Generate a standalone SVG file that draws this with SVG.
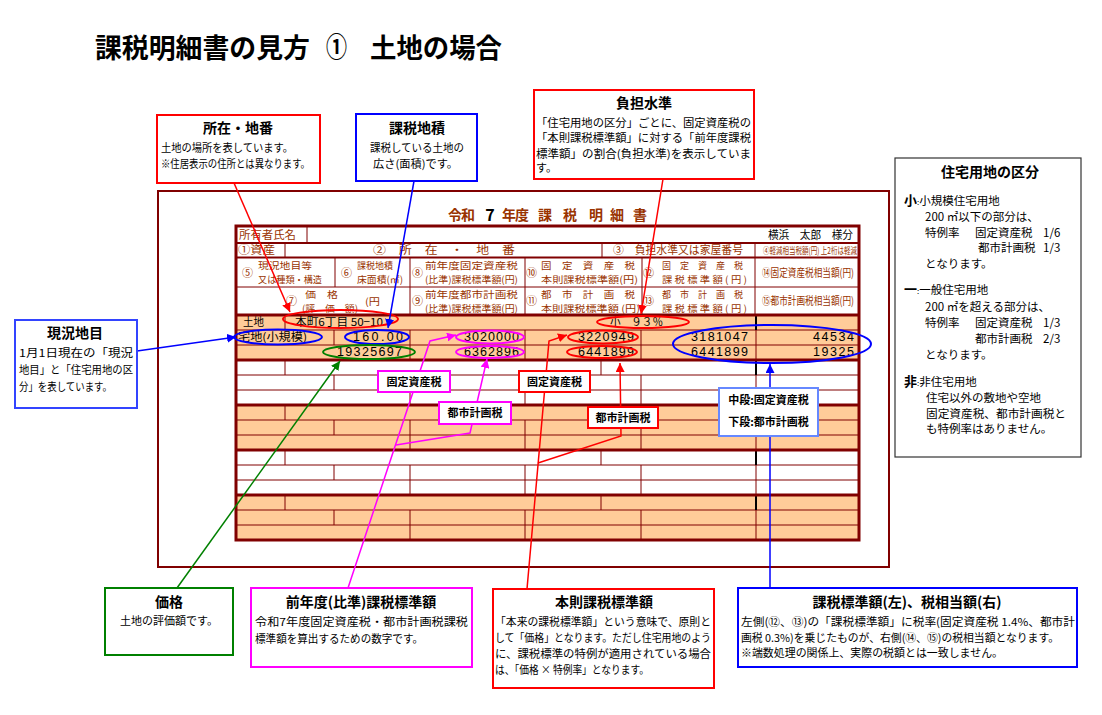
<svg xmlns="http://www.w3.org/2000/svg" width="1102" height="715" viewBox="0 0 1102 715">
<defs>
<style>
text{font-family:"Noto Sans CJK JP","Noto Sans CJK SC",sans-serif;}
.ttl{font-size:27px;font-weight:bold;fill:#000}
.sub{font-size:14px;font-weight:bold;fill:#993300;text-anchor:middle}
.hd{font-size:11px;fill:#993300}
.h2{font-size:9.5px;fill:#993300}
.hs{font-size:9px;fill:#993300}
.dt{font-size:11px;fill:#000}
.num{font-family:"Liberation Sans",Arial,sans-serif;font-size:12.5px;fill:#000}
.ct{font-size:14px;font-weight:bold;fill:#000;text-anchor:middle}
.cb{font-size:11px;fill:#000}
.lb{font-size:11px;font-weight:bold;fill:#000;text-anchor:middle}
.rb{font-size:11.5px;fill:#000}
.rk{font-size:13px;font-weight:bold;fill:#000}
.frame{fill:none;stroke:#800000;stroke-width:2}
.tl{stroke:#800000;stroke-width:1;fill:none}
.tm{stroke:#800000;stroke-width:2;fill:none}
.th{stroke:#800000;stroke-width:3;fill:none}
.blk{stroke:#000;stroke-width:2}
.bx{fill:#fff;stroke-width:2}
.ell{fill:none;stroke-width:2}
.con{fill:none;stroke-width:1.5}
.or{fill:#FFCC99}
</style>
<marker id="aR" viewBox="0 0 10 10" refX="10" refY="5" markerWidth="9" markerHeight="9" markerUnits="userSpaceOnUse" orient="auto"><path d="M0,0L10,5L0,10z" fill="#FF0000"/></marker>
<marker id="aB" viewBox="0 0 10 10" refX="10" refY="5" markerWidth="9" markerHeight="9" markerUnits="userSpaceOnUse" orient="auto"><path d="M0,0L10,5L0,10z" fill="#0000FF"/></marker>
<marker id="aG" viewBox="0 0 10 10" refX="10" refY="5" markerWidth="9" markerHeight="9" markerUnits="userSpaceOnUse" orient="auto"><path d="M0,0L10,5L0,10z" fill="#008000"/></marker>
<marker id="aM" viewBox="0 0 10 10" refX="10" refY="5" markerWidth="9" markerHeight="9" markerUnits="userSpaceOnUse" orient="auto"><path d="M0,0L10,5L0,10z" fill="#FF00FF"/></marker>
</defs>
<rect x="0" y="0" width="1102" height="715" fill="#fff"/>

<g id="title">
<text class="ttl" x="95" y="58" textLength="215" lengthAdjust="spacingAndGlyphs">課税明細書の見方</text>
<text class="ttl" x="326" y="57" font-size="24" textLength="21" lengthAdjust="spacingAndGlyphs">①</text>
<text class="ttl" x="370" y="58" textLength="132" lengthAdjust="spacingAndGlyphs">土地の場合</text>
</g>

<g id="frame">
<rect class="frame" x="158" y="191" width="731" height="376"/>
</g>

<g id="table">
<text class="sub" x="455" y="220">令</text>
<text class="sub" x="468" y="220">和</text>
<text x="490" y="221" font-family="Liberation Sans,Arial,sans-serif" font-size="16" font-weight="bold" text-anchor="middle" fill="#000">7</text>
<text class="sub" x="509" y="220">年</text>
<text class="sub" x="522" y="220">度</text>
<text class="sub" x="545" y="220">課</text>
<text class="sub" x="570" y="220">税</text>
<text class="sub" x="596" y="220">明</text>
<text class="sub" x="617" y="220">細</text>
<text class="sub" x="640" y="220">書</text>

<rect x="236" y="226" width="623" height="89" fill="#fff"/>
<rect class="or" x="236" y="315" width="623" height="45"/>
<rect x="236" y="360" width="623" height="45" fill="#fff"/>
<rect class="or" x="236" y="405" width="623" height="45"/>
<rect x="236" y="450" width="623" height="45" fill="#fff"/>
<rect class="or" x="236" y="495" width="623" height="45"/>

<path class="tm" d="M236,243H859M236,257.5H859"/>
<path class="tl" d="M236,287H859" stroke-width="1.5"/>
<path class="tl" stroke-width="1.5" d="M307,226V243M285,243V257.5M602,243V257.5M755,243V257.5M335,257.5V287M410,257.5V315M525,257.5V315M642,257.5V315M755,257.5V315"/>

<path class="tl" d="M236,330H859M236,345H859M236,375H859M236,390H859M236,420H859M236,435H859M236,465H859M236,480H859M236,510H859M236,525H859"/>
<path class="tl" d="M285,315V330M334,330V345M410,330V360M525,330V360M641,330V360M756,330V360
M285,360V375M601,360V375M334,375V390M410,375V405M525,375V405M641,375V405M756,375V405
M285,405V420M601,405V420M334,420V435M410,420V450M525,420V450M641,420V450M756,420V450
M285,450V465M601,450V465M334,465V480M410,465V495M525,465V495M641,465V495M756,465V495
M285,495V510M601,495V510M334,510V525M410,510V540M525,510V540M641,510V540M756,510V540"/>
<path class="blk" d="M756,315V330M756,360V375M756,405V420M756,450V465M756,495V510"/>
<path class="th" d="M236,315H859M236,360H859M236,405H859M236,450H859M236,495H859"/>
<rect class="th" x="236" y="226" width="623" height="314"/>

<text class="hd" x="239" y="239" font-size="11.5" textLength="57" lengthAdjust="spacingAndGlyphs">所有者氏名</text>
<text x="768" y="239" font-size="11" fill="#000" textLength="85" lengthAdjust="spacingAndGlyphs">横浜　太郎　様分</text>
<text class="hd" x="238" y="254" textLength="37" lengthAdjust="spacingAndGlyphs">①資産</text>
<text class="hd" x="373" y="254" textLength="142" lengthAdjust="spacingAndGlyphs">②　所　在　・　地　番</text>
<text class="hd" x="613" y="254" textLength="130" lengthAdjust="spacingAndGlyphs">③　負担水準又は家屋番号</text>
<text class="hs" x="763" y="254" textLength="94" lengthAdjust="spacingAndGlyphs">④軽減相当税額(円) 上2桁は軽減</text>

<text class="hd" x="242" y="277">⑤</text>
<text class="h2" x="258" y="269" textLength="54" lengthAdjust="spacingAndGlyphs">現況地目等</text>
<text class="h2" x="258" y="283" textLength="64" lengthAdjust="spacingAndGlyphs">又は種類・構造</text>
<text class="hd" x="341" y="277">⑥</text>
<text class="h2" x="357" y="269" textLength="36" lengthAdjust="spacingAndGlyphs">課税地積</text>
<text class="h2" x="357" y="283" textLength="46" lengthAdjust="spacingAndGlyphs">床面積(㎡)</text>
<text class="hd" x="412" y="277">⑧</text>
<text class="h2" x="425" y="269" textLength="93" lengthAdjust="spacingAndGlyphs">前年度固定資産税</text>
<text class="h2" x="425" y="283" textLength="93" lengthAdjust="spacingAndGlyphs">(比準)課税標準額(円)</text>
<text class="hd" x="526" y="277">⑩</text>
<text class="h2" x="541" y="269" textLength="94" lengthAdjust="spacingAndGlyphs">固　定　資　産　税</text>
<text class="h2" x="541" y="283" textLength="97" lengthAdjust="spacingAndGlyphs">本則課税標準額(円)</text>
<text class="hd" x="643" y="277" font-size="10">⑫</text>
<text class="h2" x="662" y="269" textLength="81" lengthAdjust="spacingAndGlyphs">固　定　資　産　税</text>
<text class="h2" x="662" y="283" textLength="85" lengthAdjust="spacingAndGlyphs">課 税 標 準 額 ( 円 )</text>
<text class="hd" x="762" y="277" font-size="10" textLength="92" lengthAdjust="spacingAndGlyphs">⑭固定資産税相当額(円)</text>

<text class="h2" x="305" y="298" textLength="33" lengthAdjust="spacingAndGlyphs">価　格</text>
<text class="hd" x="286" y="305">⑦</text>
<text class="h2" x="302" y="312" textLength="56" lengthAdjust="spacingAndGlyphs">(評　価　額)</text>
<text class="h2" x="365" y="305" textLength="15" lengthAdjust="spacingAndGlyphs">(円</text>
<text class="hd" x="412" y="305">⑨</text>
<text class="h2" x="425" y="298" textLength="93" lengthAdjust="spacingAndGlyphs">前年度都市計画税</text>
<text class="h2" x="425" y="312" textLength="93" lengthAdjust="spacingAndGlyphs">(比準)課税標準額(円)</text>
<text class="hd" x="526" y="305">⑪</text>
<text class="h2" x="541" y="298" textLength="94" lengthAdjust="spacingAndGlyphs">都　市　計　画　税</text>
<text class="h2" x="541" y="312" textLength="99" lengthAdjust="spacingAndGlyphs">本則課税標準額 (円)</text>
<text class="hd" x="643" y="305" font-size="10">⑬</text>
<text class="h2" x="662" y="298" textLength="81" lengthAdjust="spacingAndGlyphs">都　市　計　画　税</text>
<text class="h2" x="662" y="312" textLength="85" lengthAdjust="spacingAndGlyphs">課 税 標 準 額 ( 円 )</text>
<text class="hd" x="762" y="305" font-size="10" textLength="92" lengthAdjust="spacingAndGlyphs">⑮都市計画税相当額(円)</text>

<text class="dt" x="243" y="326" textLength="21" lengthAdjust="spacingAndGlyphs">土地</text>
<text class="dt" x="295" y="326" textLength="88" lengthAdjust="spacingAndGlyphs">本町6丁目 50−10</text>
<text class="dt" x="610" y="326" fill="#555" textLength="53" lengthAdjust="spacingAndGlyphs">小　９３％</text>
<text class="dt" x="238" y="341" textLength="69" lengthAdjust="spacingAndGlyphs">宅地(小規模)</text>
<text class="num" x="353" y="341" textLength="50" lengthAdjust="spacing">160.00</text>
<text class="num" x="464" y="341" textLength="55" lengthAdjust="spacing">3020000</text>
<text class="num" x="578" y="341" textLength="56" lengthAdjust="spacing">3220949</text>
<text class="num" x="691" y="341" textLength="57" lengthAdjust="spacing">3181047</text>
<text class="num" x="813" y="341" textLength="41" lengthAdjust="spacing">44534</text>
<text class="num" x="337" y="356" textLength="65" lengthAdjust="spacing">19325697</text>
<text class="num" x="464" y="356" textLength="55" lengthAdjust="spacing">6362896</text>
<text class="num" x="578" y="356" textLength="56" lengthAdjust="spacing">6441899</text>
<text class="num" x="691" y="356" textLength="57" lengthAdjust="spacing">6441899</text>
<text class="num" x="813" y="356" textLength="41" lengthAdjust="spacing">19325</text>
</g>

<g id="highlights">
<ellipse class="ell" stroke="#FF0000" cx="340.5" cy="319" rx="57.5" ry="9"/>
<ellipse class="ell" stroke="#0000FF" cx="278" cy="337" rx="44" ry="7.5"/>
<ellipse class="ell" stroke="#0000FF" cx="377" cy="337" rx="32" ry="7"/>
<ellipse class="ell" stroke="#008000" cx="369" cy="352" rx="46" ry="7"/>
<ellipse class="ell" stroke="#FF00FF" cx="490" cy="337" rx="34" ry="6.5"/>
<ellipse class="ell" stroke="#FF00FF" cx="490" cy="352" rx="34" ry="6"/>
<ellipse class="ell" stroke="#FF0000" cx="603" cy="337" rx="35" ry="6.5"/>
<ellipse class="ell" stroke="#FF0000" cx="602" cy="352" rx="35" ry="6"/>
<ellipse class="ell" stroke="#FF0000" cx="643" cy="322" rx="46" ry="6"/>
<ellipse class="ell" stroke="#0000FF" cx="772" cy="344" rx="99" ry="19"/>
</g>

<g id="connectors">
<path class="con" stroke="#FF0000" d="M234,183L290,312" marker-end="url(#aR)"/>
<path class="con" stroke="#0000FF" d="M414,181L388,328" marker-end="url(#aB)"/>
<path class="con" stroke="#FF0000" d="M663,179L641,314" marker-end="url(#aR)"/>
<path class="con" stroke="#0000FF" d="M137,351L236,337" marker-end="url(#aB)"/>
<path class="con" stroke="#008000" d="M177,588L340,361" marker-end="url(#aG)"/>
<path class="con" stroke="#FF00FF" d="M348,588L430,341L456,335" marker-end="url(#aM)"/>
<path class="con" stroke="#FF00FF" d="M396,445L470,433L487,359" marker-end="url(#aM)"/>
<path class="con" stroke="#FF0000" d="M527,589L549,341L567,335" marker-end="url(#aR)"/>
<path class="con" stroke="#FF0000" d="M538,463L621,436L620,363" marker-end="url(#aR)"/>
<path class="con" stroke="#0000FF" d="M770,588L770,364" marker-end="url(#aB)"/>
</g>

<g id="label-kotei-m">
<rect class="bx" stroke="#FF00FF" stroke-width="1.5" x="378" y="371" width="72" height="21"/>
<text class="lb" x="414" y="386">固定資産税</text>
</g>
<g id="label-toshi-m">
<rect class="bx" stroke="#FF00FF" stroke-width="1.5" x="439" y="402" width="72" height="22"/>
<text class="lb" x="475" y="417">都市計画税</text>
</g>
<g id="label-kotei-r">
<rect class="bx" stroke="#FF0000" stroke-width="1.5" x="519" y="371" width="71" height="21"/>
<text class="lb" x="554.5" y="386">固定資産税</text>
</g>
<g id="label-toshi-r">
<rect class="bx" stroke="#FF0000" stroke-width="1.5" x="588" y="407" width="70" height="21"/>
<text class="lb" x="623" y="422">都市計画税</text>
</g>
<g id="label-dan">
<rect class="bx" stroke="#6688FF" stroke-width="1.5" x="719" y="388" width="99" height="48"/>
<text class="lb" x="768.5" y="404">中段:固定資産税</text>
<text class="lb" x="768.5" y="426">下段:都市計画税</text>
</g>

<g id="node-shozai">
<rect class="bx" stroke="#FF0000" x="157" y="115" width="163" height="68"/>
<text class="ct" x="238" y="133">所在・地番</text>
<text class="cb" x="161" y="152" textLength="132" lengthAdjust="spacingAndGlyphs">土地の場所を表しています。</text>
<text class="cb" x="161" y="168" textLength="149" lengthAdjust="spacingAndGlyphs">※住居表示の住所とは異なります。</text>
</g>
<g id="node-chiseki">
<rect class="bx" stroke="#0000FF" x="356" y="114" width="121" height="67"/>
<text class="ct" x="417" y="133">課税地積</text>
<text class="cb" x="370" y="152" textLength="94" lengthAdjust="spacingAndGlyphs">課税している土地の</text>
<text class="cb" x="373" y="168" textLength="85" lengthAdjust="spacingAndGlyphs">広さ(面積)です。</text>
</g>
<g id="node-futan">
<rect class="bx" stroke="#FF0000" x="534" y="90" width="220" height="89"/>
<text class="ct" x="644" y="108">負担水準</text>
<text class="cb" x="536" y="127" textLength="215" lengthAdjust="spacingAndGlyphs">「住宅用地の区分」ごとに、固定資産税の</text>
<text class="cb" x="536" y="142" textLength="215" lengthAdjust="spacingAndGlyphs">「本則課税標準額」に対する「前年度課税</text>
<text class="cb" x="536" y="158" textLength="215" lengthAdjust="spacingAndGlyphs">標準額」の割合(負担水準)を表示していま</text>
<text class="cb" x="536" y="172">す。</text>
</g>
<g id="node-kubun">
<rect fill="#fff" stroke="#333" stroke-width="1.2" x="895" y="158" width="186" height="299"/>
<text class="ct" x="990" y="177">住宅用地の区分</text>
<text class="rb" x="904" y="205"><tspan class="rk">小</tspan><tspan font-size="8">:</tspan>小規模住宅用地</text>
<text class="rb" x="925" y="221">200 ㎡以下の部分は、</text>
<text class="rb" x="925" y="237">特例率</text>
<text class="rb" x="975" y="237">固定資産税</text>
<text class="rb" x="1043" y="237" font-family="Liberation Sans,Arial,sans-serif" font-size="11">1/6</text>
<text class="rb" x="978" y="252">都市計画税</text>
<text class="rb" x="1043" y="252" font-family="Liberation Sans,Arial,sans-serif" font-size="11">1/3</text>
<text class="rb" x="925" y="268">となります。</text>
<text class="rb" x="904" y="294"><tspan class="rk">一</tspan><tspan font-size="8">:</tspan>一般住宅用地</text>
<text class="rb" x="925" y="311">200 ㎡を超える部分は、</text>
<text class="rb" x="925" y="327">特例率</text>
<text class="rb" x="975" y="327">固定資産税</text>
<text class="rb" x="1043" y="327" font-family="Liberation Sans,Arial,sans-serif" font-size="11">1/3</text>
<text class="rb" x="975" y="343">都市計画税</text>
<text class="rb" x="1043" y="343" font-family="Liberation Sans,Arial,sans-serif" font-size="11">2/3</text>
<text class="rb" x="925" y="359">となります。</text>
<text class="rb" x="904" y="386"><tspan class="rk">非</tspan><tspan font-size="8">:</tspan>非住宅用地</text>
<text class="rb" x="926" y="402">住宅以外の敷地や空地</text>
<text class="rb" x="926" y="418" textLength="140" lengthAdjust="spacingAndGlyphs">固定資産税、都市計画税と</text>
<text class="rb" x="926" y="433">も特例率はありません。</text>
</g>
<g id="node-genkyo">
<rect class="bx" stroke="#3344FF" x="15" y="320" width="122" height="88"/>
<text class="ct" x="75" y="338">現況地目</text>
<text class="cb" x="19" y="357" textLength="114" lengthAdjust="spacingAndGlyphs">1月1日現在の「現況</text>
<text class="cb" x="19" y="374" textLength="114" lengthAdjust="spacingAndGlyphs">地目」と「住宅用地の区</text>
<text class="cb" x="19" y="391" textLength="93" lengthAdjust="spacingAndGlyphs">分」を表しています。</text>
</g>
<g id="node-kakaku">
<rect class="bx" stroke="#008000" x="105" y="588" width="128" height="67"/>
<text class="ct" x="169" y="607">価格</text>
<text class="cb" x="120" y="625" textLength="98" lengthAdjust="spacingAndGlyphs">土地の評価額です。</text>
</g>
<g id="node-zennendo">
<rect class="bx" stroke="#FF00FF" x="251" y="588" width="221" height="79"/>
<text class="ct" x="361" y="607">前年度(比準)課税標準額</text>
<text class="cb" x="255" y="626" textLength="213" lengthAdjust="spacingAndGlyphs">令和7年度固定資産税・都市計画税課税</text>
<text class="cb" x="255" y="643" textLength="168" lengthAdjust="spacingAndGlyphs">標準額を算出するための数字です。</text>
</g>
<g id="node-honsoku">
<rect class="bx" stroke="#FF0000" x="493" y="589" width="221" height="99"/>
<text class="ct" x="604" y="607">本則課税標準額</text>
<text class="cb" x="495" y="626" textLength="216" lengthAdjust="spacingAndGlyphs">「本来の課税標準額」という意味で、原則と</text>
<text class="cb" x="495" y="642" textLength="216" lengthAdjust="spacingAndGlyphs">して「価格」となります。ただし住宅用地のよう</text>
<text class="cb" x="495" y="658" textLength="216" lengthAdjust="spacingAndGlyphs">に、課税標準の特例が適用されている場合</text>
<text class="cb" x="495" y="674" textLength="154" lengthAdjust="spacingAndGlyphs">は、「価格 × 特例率」となります。</text>
</g>
<g id="node-kazei">
<rect class="bx" stroke="#0000FF" x="738" y="588" width="339" height="79"/>
<text class="ct" x="907" y="607">課税標準額(左)、税相当額(右)</text>
<text class="cb" x="741" y="626" textLength="334" lengthAdjust="spacingAndGlyphs">左側(⑫、⑬)の「課税標準額」に税率(固定資産税 1.4%、都市計</text>
<text class="cb" x="741" y="642" textLength="318" lengthAdjust="spacingAndGlyphs">画税 0.3%)を乗じたものが、右側(⑭、⑮)の税相当額となります。</text>
<text class="cb" x="741" y="657" textLength="262" lengthAdjust="spacingAndGlyphs">※端数処理の関係上、実際の税額とは一致しません。</text>
</g>
</svg>
